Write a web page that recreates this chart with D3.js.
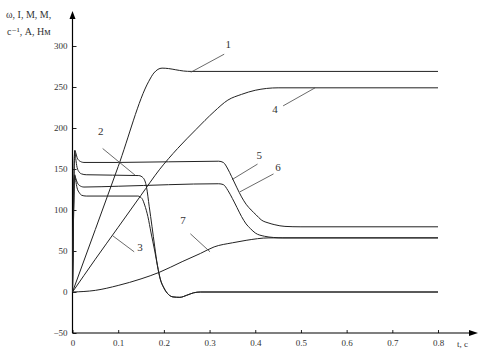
<!DOCTYPE html>
<html>
<head>
<meta charset="utf-8">
<script src="https://cdn.jsdelivr.net/npm/d3@7"></script>
<style>
  body { margin: 0; background: #fff; }
  text { font-family: "Liberation Serif", "DejaVu Serif", serif; fill: #333; }
</style>
</head>
<body>
<div id="chart"></div>
<script>
// time, s and values of each curve
const t1 = [0, 0.1, 0.167, 0.178, 0.196, 0.21, 0.226, 0.243, 0.26, 0.8];
const v1 = [0, 153, 257, 267, 273, 272.5, 271, 269.5, 269, 269];

const t2 = [0, 0.002, 0.004, 0.005, 0.007, 0.01, 0.015, 0.02, 0.03, 0.145, 0.155, 0.162, 0.168, 0.174, 0.18, 0.186, 0.192, 0.2, 0.21, 0.22, 0.235, 0.25, 0.265, 0.28, 0.8];
const v2 = [0, 90, 165, 172, 163, 152, 146, 144, 143, 142, 139, 128, 104, 80, 55, 32, 16, 5, -3, -6, -6.5, -4, -1, 0, 0];

const t4 = [0, 0.05, 0.1, 0.15, 0.19, 0.23, 0.27, 0.31, 0.34, 0.37, 0.4, 0.45, 0.8];
const v4 = [0, 40, 79, 118, 149, 175, 198, 220, 234, 241, 246, 249, 249];

const t5 = [0, 0.002, 0.004, 0.005, 0.007, 0.01, 0.015, 0.025, 0.1, 0.32, 0.33, 0.34, 0.35, 0.36, 0.37, 0.38, 0.39, 0.4, 0.42, 0.44, 0.46, 0.8];
const v5 = [0, 80, 140, 142, 139, 134, 130, 128, 129, 132, 131, 124, 114, 103, 92, 83, 77, 72, 68, 66.5, 66, 66];

const t6 = [0, 0.002, 0.004, 0.005, 0.007, 0.01, 0.015, 0.025, 0.1, 0.32, 0.33, 0.34, 0.348, 0.36, 0.37, 0.38, 0.391, 0.402, 0.413, 0.43, 0.443, 0.465, 0.5, 0.8];
const v6 = [0, 90, 160, 173, 170, 164, 160, 158, 158, 159.5, 158, 150, 141, 127, 116, 107, 100, 94, 88, 84, 82, 80, 79.5, 79.5];

const t7 = [0, 0.05, 0.1, 0.15, 0.19, 0.24, 0.28, 0.31, 0.35, 0.38, 0.43, 0.5, 0.8];
const v7 = [0, 2, 8, 16, 24, 37, 47, 55, 60, 63, 66, 66, 66];

// unlabeled curve (lower flat one that falls with curve 2)
const t8 = [0, 0.002, 0.004, 0.005, 0.007, 0.01, 0.015, 0.02, 0.03, 0.143, 0.152, 0.158, 0.165, 0.172, 0.18, 0.186, 0.192, 0.2, 0.21, 0.22, 0.235, 0.25, 0.265, 0.28, 0.8];
const v8 = [0, 80, 138, 143, 136, 127, 121, 118, 117, 117, 114, 106, 92, 72, 50, 32, 16, 5, -3, -6, -6.5, -4, -1, 0, 0];

const xTicks = [0, 0.1, 0.2, 0.3, 0.4, 0.5, 0.6, 0.7, 0.8];
const xTickLabels = ["0", "0.1", "0.2", "0.3", "0.4", "0.5", "0.6", "0.7", "0.8"];
const yTicks = [-50, 0, 50, 100, 150, 200, 250, 300];

// curve numbers: label position and leader line, in data units
const labelNames = ["1", "2", "3", "4", "5", "6", "7"];
const labelAt = [[0.341, 297], [0.062, 192], [0.148, 50], [0.443, 218], [0.409, 162], [0.45, 147], [0.242, 83]];
const leaderFrom = [[0.259, 268], [0.066, 175], [0.087, 69], [0.461, 227], [0.349, 137], [0.366, 122], [0.258, 71]];
const leaderTo = [[0.332, 290], [0.138, 142], [0.135, 49], [0.531, 249], [0.405, 156], [0.44, 144], [0.301, 49]];

const width = 489,
    height = 356;

const svg = d3.select("#chart")
    .append("svg")
    .attr("width", width)
    .attr("height", height);

const x = d3.scaleLinear()
    .domain([0, 0.8])
    .range([72.5, 438]);

const y = d3.scaleLinear()
    .domain([-50, 300])
    .range([333, 46]);

const serif = "Liberation Serif, DejaVu Serif, serif";

// axes with small inner ticks
svg.append("g")
    .attr("transform", `translate(${x(0)}, 0)`)
    .call(d3.axisLeft(y).tickValues(yTicks).tickSizeInner(-4).tickSizeOuter(0).tickPadding(5))
    .attr("font-family", serif)
    .call(g => g.select(".domain").remove())
    .call(g => g.selectAll("line").attr("stroke", "#222"))
    .call(g => g.selectAll("text").style("font-size", "9px").attr("fill", "#333"));

svg.append("g")
    .attr("transform", `translate(0, ${y(-50)})`)
    .call(d3.axisBottom(x).tickValues(xTicks).tickFormat((d, i) => xTickLabels[i])
        .tickSizeInner(-3).tickSizeOuter(0).tickPadding(7))
    .attr("font-family", serif)
    .call(g => g.select(".domain").remove())
    .call(g => g.selectAll("line").attr("stroke", "#222"))
    .call(g => g.selectAll("text").style("font-size", "9px").attr("fill", "#333"));

// axis lines with arrows
svg.append("line")
    .attr("x1", x(0)).attr("x2", x(0))
    .attr("y1", y(-50)).attr("y2", 14)
    .attr("stroke", "#000").attr("stroke-width", 1.2);
svg.append("path")
    .attr("d", `M${x(0)},11 L${x(0) - 3},19 L${x(0) + 3},19 Z`)
    .attr("fill", "#000");

svg.append("line")
    .attr("x1", x(0)).attr("x2", 474)
    .attr("y1", y(-50)).attr("y2", y(-50))
    .attr("stroke", "#000").attr("stroke-width", 1.2);
svg.append("path")
    .attr("d", `M478,${y(-50)} L469,${y(-50) - 3} L469,${y(-50) + 3} Z`)
    .attr("fill", "#000");

// axis titles
svg.append("text")
    .attr("x", 6).attr("y", 18)
    .style("font-size", "10px")
    .text("ω, I, M, M,");
svg.append("text")
    .attr("x", 7).attr("y", 35)
    .style("font-size", "10px")
    .text("с⁻¹, А, Нм");
svg.append("text")
    .attr("x", 457).attr("y", 347)
    .style("font-size", "9px")
    .text("t, c");

// curves
const series = [[t1, v1], [t2, v2], [t4, v4], [t5, v5], [t6, v6], [t7, v7], [t8, v8]];

const line = d3.line()
    .x(d => x(d[0]))
    .y(d => y(d[1]))
    .curve(d3.curveMonotoneX);

svg.selectAll(".curve")
    .data(series)
    .join("path")
    .attr("class", "curve")
    .attr("fill", "none")
    .attr("stroke", "#222")
    .attr("stroke-width", 1)
    .attr("d", s => line(d3.zip(s[0], s[1])));

// curve numbers with leaders
svg.selectAll(".leader")
    .data(labelNames)
    .join("line")
    .attr("class", "leader")
    .attr("x1", (d, i) => x(leaderFrom[i][0]))
    .attr("y1", (d, i) => y(leaderFrom[i][1]))
    .attr("x2", (d, i) => x(leaderTo[i][0]))
    .attr("y2", (d, i) => y(leaderTo[i][1]))
    .attr("stroke", "#444")
    .attr("stroke-width", 0.8);

svg.selectAll(".num")
    .data(labelNames)
    .join("text")
    .attr("class", "num")
    .attr("x", (d, i) => x(labelAt[i][0]))
    .attr("y", (d, i) => y(labelAt[i][1]))
    .attr("text-anchor", "middle")
    .style("font-size", "11px")
    .text(d => d);
</script>
</body>
</html>
